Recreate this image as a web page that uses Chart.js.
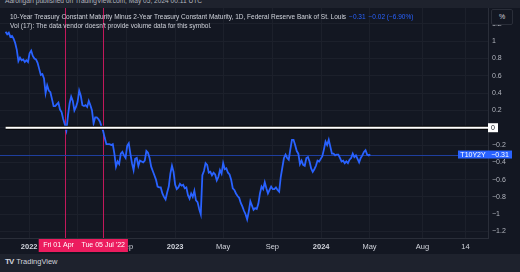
<!DOCTYPE html>
<html>
<head>
<meta charset="utf-8">
<script src="https://cdn.jsdelivr.net/npm/chart.js@4.4.1/dist/chart.umd.min.js"></script>
<style>
  html, body { margin: 0; padding: 0; }
  body { width: 520px; height: 272px; background: #1e222d; position: relative; overflow: hidden;
         font-family: 'Liberation Sans', Arial, sans-serif; }
  #published { position: absolute; left: 5px; top: -3px; font-size: 6.6px; color: #b2b5be; white-space: nowrap; }
  #panel { position: absolute; left: 0; top: 8px; width: 520px; height: 246px; background: #131722; }
  #chartBox { position: absolute; left: 0; top: 0; width: 520px; height: 246px; }
  #legend { position: absolute; left: 10px; top: 4px; font-size: 6.5px; color: #d1d4dc; line-height: 9px;
            white-space: nowrap; pointer-events: none; }
  #legend .val { color: #2962ff; margin-left: 3px; }
  #unit { position: absolute; left: 491px; top: 1px; width: 20px; height: 14px; border: 1px solid #2a2e39;
          background: #131722; color: #d1d4dc; font-size: 7px; text-align: center; line-height: 13px; border-radius: 2px; }
  #brand { position: absolute; left: 5px; top: 257px; font-size: 7.5px; color: #d1d4dc; white-space: nowrap; }
  #brand b { font-size: 8px; letter-spacing: -1px; margin-right: 3px; }
</style>
</head>
<body>
<div id="published">Aarongarf published on TradingView.com, May 05, 2024 00:11 UTC</div>
<div id="panel">
  <div id="chartBox"><canvas id="chart"></canvas></div>
  <div id="legend">
    <div>10-Year Treasury Constant Maturity Minus 2-Year Treasury Constant Maturity, 1D, Federal Reserve Bank of St. Louis<span class="val">−0.31</span><span class="val">−0.02 (−6.90%)</span></div>
    <div>Vol (17): The data vendor doesn't provide volume data for this symbol.</div>
  </div>
  <div id="unit">%</div>
</div>
<div id="brand"><b>TV</b>TradingView</div>
<script>
// T10Y2Y spread (%), one reading every 4 days starting 2021-11-03
const startDate = '2021-11-03';
const stepDays = 4;
const spread = [
  1.11, 1.08, 1.10, 1.05, 1.06, 1.03, 0.98, 0.90, 0.77, 0.81,
  0.78, 0.79, 0.76, 0.78, 0.76, 0.86, 0.89, 0.83, 0.80, 0.79,
  0.75, 0.68, 0.61, 0.62, 0.57, 0.40, 0.49, 0.43, 0.41, 0.33,
  0.25, 0.25, 0.27, 0.29, 0.21, 0.18, 0.10, 0.04, -0.03, 0.14,
  0.28, 0.36, 0.31, 0.20, 0.24, 0.30, 0.43, 0.37, 0.26, 0.25,
  0.26, 0.24, 0.31, 0.26, 0.20, 0.05, 0.12, 0.12, 0.10, 0.07,
  0.01, -0.04, -0.12, -0.19, -0.19, -0.19, -0.20, -0.19, -0.30, -0.45,
  -0.39, -0.42, -0.30, -0.28, -0.32, -0.35, -0.21, -0.18, -0.30, -0.41,
  -0.49, -0.36, -0.35, -0.44, -0.38, -0.39, -0.40, -0.38, -0.27, -0.29,
  -0.35, -0.45, -0.50, -0.55, -0.60, -0.68, -0.69, -0.69, -0.76, -0.80,
  -0.83, -0.75, -0.68, -0.53, -0.44, -0.51, -0.66, -0.71, -0.69, -0.65,
  -0.67, -0.66, -0.70, -0.69, -0.78, -0.82, -0.76, -0.80, -0.73, -0.84,
  -0.86, -0.94, -1.00, -0.55, -0.50, -0.41, -0.43, -0.52, -0.51, -0.55,
  -0.52, -0.54, -0.61, -0.57, -0.49, -0.53, -0.41, -0.48, -0.47, -0.52,
  -0.54, -0.60, -0.70, -0.72, -0.76, -0.79, -0.81, -0.87, -0.91, -0.96,
  -1.00, -1.06, -0.97, -0.85, -0.90, -0.95, -0.93, -0.94, -0.88, -0.76,
  -0.68, -0.71, -0.63, -0.70, -0.76, -0.72, -0.68, -0.71, -0.71, -0.69,
  -0.72, -0.74, -0.57, -0.46, -0.35, -0.31, -0.35, -0.37, -0.25, -0.14,
  -0.14, -0.20, -0.27, -0.30, -0.42, -0.38, -0.43, -0.44, -0.35, -0.34,
  -0.39, -0.47, -0.51, -0.48, -0.44, -0.38, -0.39, -0.36, -0.33, -0.25,
  -0.16, -0.20, -0.14, -0.22, -0.30, -0.30, -0.32, -0.31, -0.31, -0.35,
  -0.39, -0.38, -0.41, -0.39, -0.41, -0.37, -0.35, -0.30, -0.34, -0.32,
  -0.36, -0.40, -0.35, -0.32, -0.28, -0.26, -0.31, -0.32, -0.31
];
const lastValue = -0.31;

// time axis labels (date, text)
const timeTicks = [
  ['2022-01-01', '2022'], ['2022-05-01', 'May'], ['2022-09-01', 'Sep'],
  ['2023-01-01', '2023'], ['2023-05-01', 'May'], ['2023-09-01', 'Sep'],
  ['2024-01-01', '2024'], ['2024-05-01', 'May'], ['2024-08-01', 'Aug'],
  ['2024-10-14', '14']
];
const priceTicks = [-1.2, -1, -0.8, -0.6, -0.4, -0.2, 0, 0.2, 0.4, 0.6, 0.8, 1, 1.2];
const viewStart = '2021-10-20';
const viewEnd = '2024-11-22';
const markers = [['2022-04-01', 'Fri 01 Apr'], ['2022-07-05', "Tue 05 Jul '22"]];
const symbol = 'T10Y2Y';

const DAY = 864e5;
const firstT = Date.parse(startDate);
const lastT = firstT + (spread.length - 1) * stepDays * DAY;
// past bars are trading days, future bars are calendar days -> stretch time after the last bar
function axisTime(date) {
  const t = Date.parse(date);
  return t <= lastT ? t : lastT + (t - lastT) * 365.25 / 252;
}
const minus = (v) => (v < 0 ? '\u2212' : '') + String(Math.abs(Math.round(v * 100) / 100));

const textColor = '#b2b5be';
const gridColor = '#1c202b';
const lineColor = '#2962ff';
const markColor = '#ec1c5e';
const font = '"Liberation Sans", Arial, sans-serif';

const overlays = {
  id: 'overlays',
  beforeDatasetsDraw(chart) {
    const { ctx, chartArea: a, scales: { x, y } } = chart;
    ctx.save();
    // vertical date markers
    ctx.strokeStyle = '#c2185b';
    ctx.lineWidth = 1;
    markers.forEach(([d]) => {
      const px = Math.round(x.getPixelForValue(axisTime(d))) + 0.5;
      ctx.beginPath(); ctx.moveTo(px, a.top); ctx.lineTo(px, a.bottom); ctx.stroke();
    });
    // last price line
    const py = Math.round(y.getPixelForValue(lastValue)) + 0.5;
    ctx.strokeStyle = '#1f3f9e';
    ctx.beginPath(); ctx.moveTo(a.left, py); ctx.lineTo(a.right, py); ctx.stroke();
    ctx.restore();
  },
  afterDatasetsDraw(chart) {
    const { ctx, chartArea: a, scales: { x, y } } = chart;
    ctx.save();
    // horizontal ray at zero from first bar
    const zy = y.getPixelForValue(0);
    const zx = x.getPixelForValue(firstT);
    ctx.strokeStyle = '#000';
    ctx.lineWidth = 4;
    ctx.beginPath(); ctx.moveTo(zx, zy); ctx.lineTo(a.right, zy); ctx.stroke();
    ctx.strokeStyle = '#ffffff';
    ctx.lineWidth = 2;
    ctx.beginPath(); ctx.moveTo(zx, zy); ctx.lineTo(a.right, zy); ctx.stroke();
    ctx.restore();
  },
  afterDraw(chart) {
    const { ctx, chartArea: a, scales: { x, y } } = chart;
    ctx.save();
    ctx.font = '7px ' + font;
    ctx.textBaseline = 'middle';
    ctx.textAlign = 'center';
    // zero label on the price axis
    const zy = y.getPixelForValue(0);
    ctx.fillStyle = '#ffffff';
    ctx.fillRect(a.right, zy - 4.5, 10, 9);
    ctx.fillStyle = '#131722';
    ctx.fillText('0', a.right + 5, zy);
    // last value labels
    const py = y.getPixelForValue(lastValue);
    ctx.fillStyle = lineColor;
    ctx.fillRect(a.right - 30, py - 4, 30, 8);
    ctx.fillRect(a.right, py - 4, 24, 8);
    ctx.fillStyle = '#ffffff';
    ctx.fillText(symbol, a.right - 15, py + 0.5);
    ctx.fillText(minus(lastValue), a.right + 12, py + 0.5);
    // date marker labels on the time axis
    const boxTop = a.bottom + 1, boxH = 13;
    const b2 = x.getPixelForValue(axisTime(markers[1][0]));
    const w2 = ctx.measureText(markers[1][1]).width + 6;
    const l2 = b2 - w2 / 2;
    const w1 = ctx.measureText(markers[0][1]).width + 9;
    const l1 = l2 - w1;
    ctx.fillStyle = markColor;
    ctx.fillRect(l1, boxTop, w1 + w2, boxH);
    ctx.fillStyle = '#ffffff';
    ctx.fillText(markers[0][1], l1 + w1 / 2, boxTop + boxH / 2);
    ctx.fillText(markers[1][1], l2 + w2 / 2, boxTop + boxH / 2);
    ctx.restore();
  }
};

new Chart(document.getElementById('chart').getContext('2d'), {
  type: 'line',
  data: {
    datasets: [{
      data: spread.map((v, i) => ({ x: axisTime(new Date(firstT + i * stepDays * DAY).toISOString().slice(0, 10)), y: v })),
      borderColor: lineColor,
      borderWidth: 1.8,
      pointRadius: 0,
      tension: 0,
    }]
  },
  options: {
    responsive: true,
    maintainAspectRatio: false,
    animation: false,
    layout: { padding: 0 },
    plugins: { legend: { display: false }, tooltip: { enabled: false } },
    scales: {
      x: {
        type: 'linear',
        min: axisTime(viewStart),
        max: axisTime(viewEnd),
        afterBuildTicks: (s) => { s.ticks = timeTicks.map(([d]) => ({ value: axisTime(d) })); },
        afterFit: (s) => { s.height = 16; s.paddingLeft = 0; s.paddingRight = 0; },
        ticks: {
          autoSkip: false, maxRotation: 0, padding: 4, color: '#d1d4dc',
          font: (c) => ({ size: 7.5, family: font,
                          weight: /^\d{4}$/.test(timeTicks[c.index]?.[1] || '') ? 'bold' : 'normal' }),
          callback: (v, i) => timeTicks[i][1],
        },
        grid: { color: gridColor, drawTicks: false },
        border: { color: '#2a2e39' },
      },
      y: {
        position: 'right',
        min: -1.275,
        max: 1.384,
        afterBuildTicks: (s) => { s.ticks = priceTicks.map(v => ({ value: v })); },
        afterFit: (s) => { s.width = 32; s.paddingTop = 0; s.paddingBottom = 0; },
        ticks: {
          padding: 4, color: textColor,
          font: { size: 7, family: font },
          callback: (v) => minus(v),
        },
        grid: { color: gridColor, drawTicks: false },
        border: { color: '#2a2e39' },
      }
    }
  },
  plugins: [overlays]
});
</script>
</body>
</html>
